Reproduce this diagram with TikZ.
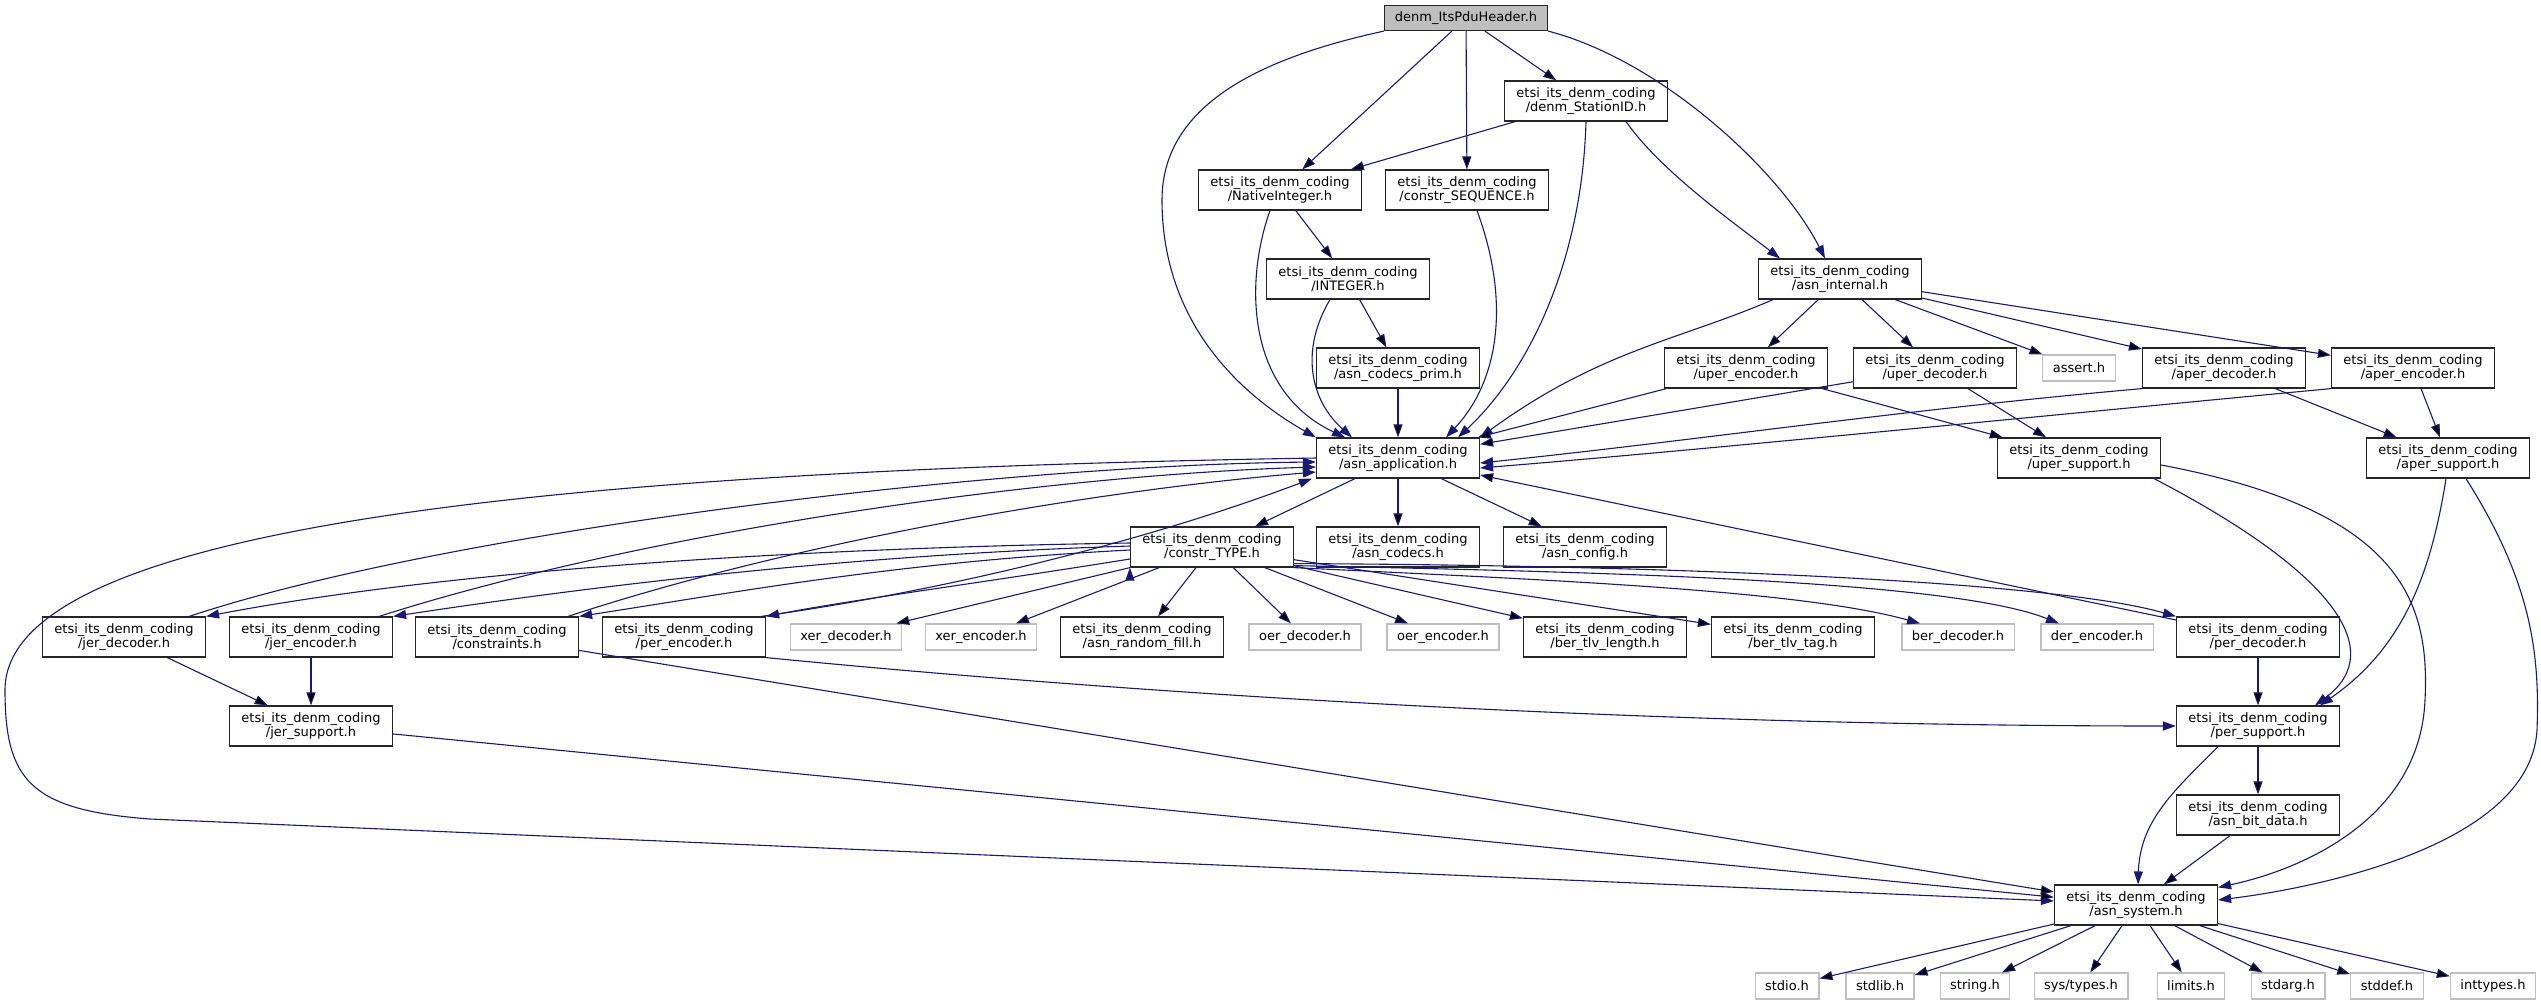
\documentclass[tikz,border=0pt]{standalone}
\usepackage{fontspec}
\setmainfont{DejaVu Sans}
\usetikzlibrary{arrows.meta}

\definecolor{deplink}{HTML}{191970}
\definecolor{extgray}{HTML}{BFBFBF}
\newcommand{\depfont}{\fontsize{13}{14}\selectfont}

\tikzset{
  doc/.style={draw=black!85, line width=1.2pt, fill=white, minimum width=163pt,
    minimum height=40pt, inner xsep=8pt, inner ysep=2pt, align=center, font=\depfont},
  root/.style={doc, fill=extgray, minimum height=25pt},
  ext/.style={draw=extgray, line width=1.2pt, fill=white, minimum height=26pt,
    inner xsep=10pt, inner ysep=2pt, font=\depfont},
  dep/.style={draw=deplink, line width=1.1pt, -{Triangle[length=13pt,width=9pt]}}
}

\begin{document}
\begin{tikzpicture}[x=1pt,y=-1pt]
    \useasboundingbox (0,0) rectangle (2541,1005);

    % top
    \node[root] (hdr) at (1466,18) {denm\_ItsPduHeader.h};
    \node[doc] (sid) at (1586,101) {etsi\_its\_denm\_coding\\/denm\_StationID.h};
    \node[doc] (nint) at (1280,190) {etsi\_its\_denm\_coding\\/NativeInteger.h};
    \node[doc] (cseq) at (1467,190) {etsi\_its\_denm\_coding\\/constr\_SEQUENCE.h};
    \node[doc] (intg) at (1348,279) {etsi\_its\_denm\_coding\\/INTEGER.h};
    \node[doc] (aint) at (1840,279) {etsi\_its\_denm\_coding\\/asn\_internal.h};
    \node[doc] (prim) at (1398,368) {etsi\_its\_denm\_coding\\/asn\_codecs\_prim.h};
    \node[doc] (uenc) at (1746,368) {etsi\_its\_denm\_coding\\/uper\_encoder.h};
    \node[doc] (udec) at (1935,368) {etsi\_its\_denm\_coding\\/uper\_decoder.h};
    \node[ext] (asrt) at (2079,368) {assert.h};
    \node[doc] (adec) at (2224,368) {etsi\_its\_denm\_coding\\/aper\_decoder.h};
    \node[doc] (aenc) at (2413,368) {etsi\_its\_denm\_coding\\/aper\_encoder.h};
    \node[doc] (app) at (1398,458) {etsi\_its\_denm\_coding\\/asn\_application.h};
    \node[doc] (usup) at (2079,458) {etsi\_its\_denm\_coding\\/uper\_support.h};
    \node[doc] (asup) at (2448,458) {etsi\_its\_denm\_coding\\/aper\_support.h};
    \node[doc] (ctype) at (1212,547) {etsi\_its\_denm\_coding\\/constr\_TYPE.h};
    \node[doc] (codecs) at (1398,547) {etsi\_its\_denm\_coding\\/asn\_codecs.h};
    \node[doc] (conf) at (1585,547) {etsi\_its\_denm\_coding\\/asn\_config.h};

    % codec row
    \node[doc] (jdec) at (124,637) {etsi\_its\_denm\_coding\\/jer\_decoder.h};
    \node[doc] (jenc) at (311,637) {etsi\_its\_denm\_coding\\/jer\_encoder.h};
    \node[doc] (cons) at (497,637) {etsi\_its\_denm\_coding\\/constraints.h};
    \node[doc] (penc) at (684,637) {etsi\_its\_denm\_coding\\/per\_encoder.h};
    \node[ext] (xdec) at (846,637) {xer\_decoder.h};
    \node[ext] (xenc) at (981,637) {xer\_encoder.h};
    \node[doc] (rfill) at (1142,637) {etsi\_its\_denm\_coding\\/asn\_random\_fill.h};
    \node[ext] (odec) at (1305,637) {oer\_decoder.h};
    \node[ext] (oenc) at (1443,637) {oer\_encoder.h};
    \node[doc] (tlvl) at (1605,637) {etsi\_its\_denm\_coding\\/ber\_tlv\_length.h};
    \node[doc] (tlvt) at (1793,637) {etsi\_its\_denm\_coding\\/ber\_tlv\_tag.h};
    \node[ext] (bdec) at (1958,637) {ber\_decoder.h};
    \node[ext] (denc) at (2097,637) {der\_encoder.h};
    \node[doc] (pdec) at (2258,637) {etsi\_its\_denm\_coding\\/per\_decoder.h};

    % support
    \node[doc] (jsup) at (311,726) {etsi\_its\_denm\_coding\\/jer\_support.h};
    \node[doc] (psup) at (2258,726) {etsi\_its\_denm\_coding\\/per\_support.h};
    \node[doc] (bitd) at (2258,815) {etsi\_its\_denm\_coding\\/asn\_bit\_data.h};
    \node[doc] (sys) at (2136,905) {etsi\_its\_denm\_coding\\/asn\_system.h};

    % system headers
    \node[ext] (stdio) at (1787,986) {stdio.h};
    \node[ext] (stdlib) at (1880,986) {stdlib.h};
    \node[ext] (string) at (1975,986) {string.h};
    \node[ext] (systypes) at (2081,986) {sys/types.h};
    \node[ext] (limits) at (2191,986) {limits.h};
    \node[ext] (stdarg) at (2288,986) {stdarg.h};
    \node[ext] (stddef) at (2387,986) {stddef.h};
    \node[ext] (inttypes) at (2493,986) {inttypes.h};

    % header includes
    \draw[dep] (hdr.south west) .. controls (1250,60) and (1162,110) .. (1162,200)
        .. controls (1162,330) and (1250,400) .. (app.north west);
    \path [dep] (hdr) edge (nint);
    \path [dep] (hdr) edge (cseq);
    \path [dep] (hdr) edge (sid);
    \draw[dep] (hdr.south east) .. controls (1660,60) and (1780,170) .. ([xshift=-15pt]aint.north);

    \path [dep] (sid) edge (nint);
    \draw[dep] (sid.south) .. controls (1582,260) and (1530,370) .. ([xshift=60pt]app.north);
    \draw[dep] ([xshift=40pt]sid.south) .. controls (1660,170) and (1730,220) .. ([xshift=-60pt]aint.north);

    \path [dep] (nint) edge (intg);
    \draw[dep] ([xshift=-10pt]nint.south) .. controls (1245,280) and (1245,390) .. ([xshift=-53pt]app.north);
    \draw[dep] ([xshift=10pt]cseq.south) .. controls (1510,300) and (1500,380) .. ([xshift=48pt]app.north);
    \path [dep] (intg) edge (prim);
    \draw[dep] ([xshift=-18pt]intg.south) .. controls (1300,350) and (1310,400) .. ([xshift=-46pt]app.north);
    \path [dep] (prim) edge (app);

    % asn_internal
    \draw[dep] ([xshift=-67pt]aint.south) .. controls (1680,340) and (1600,350) .. (app.north east);
    \path [dep] (aint) edge (uenc);
    \path [dep] (aint) edge (udec);
    \path [dep] (aint) edge (asrt);
    \path [dep] (aint) edge (adec);
    \path [dep] (aint) edge (aenc);

    \path [dep] (uenc) edge (app);
    \path [dep] (uenc) edge (usup);
    \path [dep] (udec) edge (app);
    \path [dep] (udec) edge (usup);
    \draw[dep] (adec.south west) .. controls (1900,410) and (1700,440) .. ([yshift=-5pt]app.east);
    \path [dep] (adec) edge (asup);
    \draw[dep] (aenc.south west) .. controls (2000,420) and (1700,450) .. ([yshift=-10pt]app.east);
    \path [dep] (aenc) edge (asup);

    \draw[dep] ([xshift=75pt]usup.south) .. controls (2330,570) and (2390,650) .. ([xshift=57pt]psup.north);
    \draw[dep] ([yshift=-7pt]usup.east) .. controls (2400,510) and (2430,600) .. (2425,700)
        .. controls (2420,820) and (2300,870) .. ([yshift=-3pt]sys.north east);
    \draw[dep] ([xshift=-2pt]asup.south) .. controls (2430,580) and (2400,650) .. ([xshift=62pt]psup.north);
    \draw[dep] ([xshift=18pt]asup.south) .. controls (2530,580) and (2540,650) .. (2537,730)
        .. controls (2530,850) and (2300,890) .. ([yshift=5pt]sys.east);

    % asn_application
    \path [dep] (app) edge (ctype);
    \path [dep] (app) edge (codecs);
    \path [dep] (app) edge (conf);
    \draw[dep] (app.west) .. controls (600,470) and (5,520) .. (5,690)
        .. controls (5,780) and (30,810) .. (150,819) -- ([yshift=4pt]sys.west);

    \draw[dep] ([xshift=65pt]jdec.north) .. controls (450,530) and (1000,465) .. ([yshift=-4pt]app.west);
    \draw[dep] ([xshift=68pt]jenc.north) .. controls (650,530) and (1050,475) .. ([yshift=-9pt]app.west);
    \draw[dep] ([xshift=71pt]cons.north) .. controls (800,540) and (1100,490) .. ([yshift=-14pt]app.west);
    \draw[dep] ([xshift=77pt]penc.north) .. controls (950,590) and (1150,540) .. ([xshift=-4pt]app.south west);
    \path [dep] (pdec) edge (app);

    % constr_TYPE
    \draw[dep] ([yshift=4pt]ctype.west) .. controls (800,548) and (450,570) .. (jdec.north east);
    \draw[dep] ([yshift=1pt]ctype.west) .. controls (850,555) and (600,585) .. (jenc.north east);
    \draw[dep] ([yshift=-3pt]ctype.west) .. controls (900,562) and (750,590) .. (cons.north east);
    \draw[dep] ([yshift=-12pt]ctype.west) .. controls (1000,580) and (850,600) .. (penc.north east);
    \path [dep] (ctype.south west) edge ([xshift=-6pt]xdec.north east);
    \path [dep] (ctype) edge (xenc);
    \path [dep] (ctype) edge (rfill);
    \path [dep] (ctype) edge (odec);
    \path [dep] (ctype) edge (oenc);
    \path [dep] (ctype) edge (tlvl);
    \path [dep] (ctype) edge (tlvt);
    \draw[dep] (ctype.south east) .. controls (1550,580) and (1800,590) .. ([xshift=-38pt]bdec.north);
    \draw[dep] ([yshift=2pt]ctype.south east) .. controls (1600,572) and (1950,580) .. ([xshift=-38pt]denc.north);
    \draw[dep] ([yshift=4pt]ctype.south east) .. controls (1650,565) and (2050,580) .. (pdec.north west);

    % support
    \path [dep] (jdec) edge (jsup);
    \path [dep] (jenc) edge (jsup);
    \path [dep] (cons) edge (sys);
    \draw[dep] (penc.south east) .. controls (1200,700) and (1700,726) .. (psup.west);
    \path [dep] (pdec) edge (psup);
    \path [dep] (jsup) edge (sys);
    \path [dep] (psup) edge (bitd);
    \draw[dep] ([xshift=-40pt]psup.south) .. controls (2175,790) and (2140,820) .. ([xshift=2pt]sys.north);
    \path [dep] (bitd) edge (sys);

    % system headers
    \foreach \h in {stdio,stdlib,string,systypes,limits,stdarg,stddef,inttypes}
      \path [dep] (sys) edge (\h);
\end{tikzpicture}
\end{document}
